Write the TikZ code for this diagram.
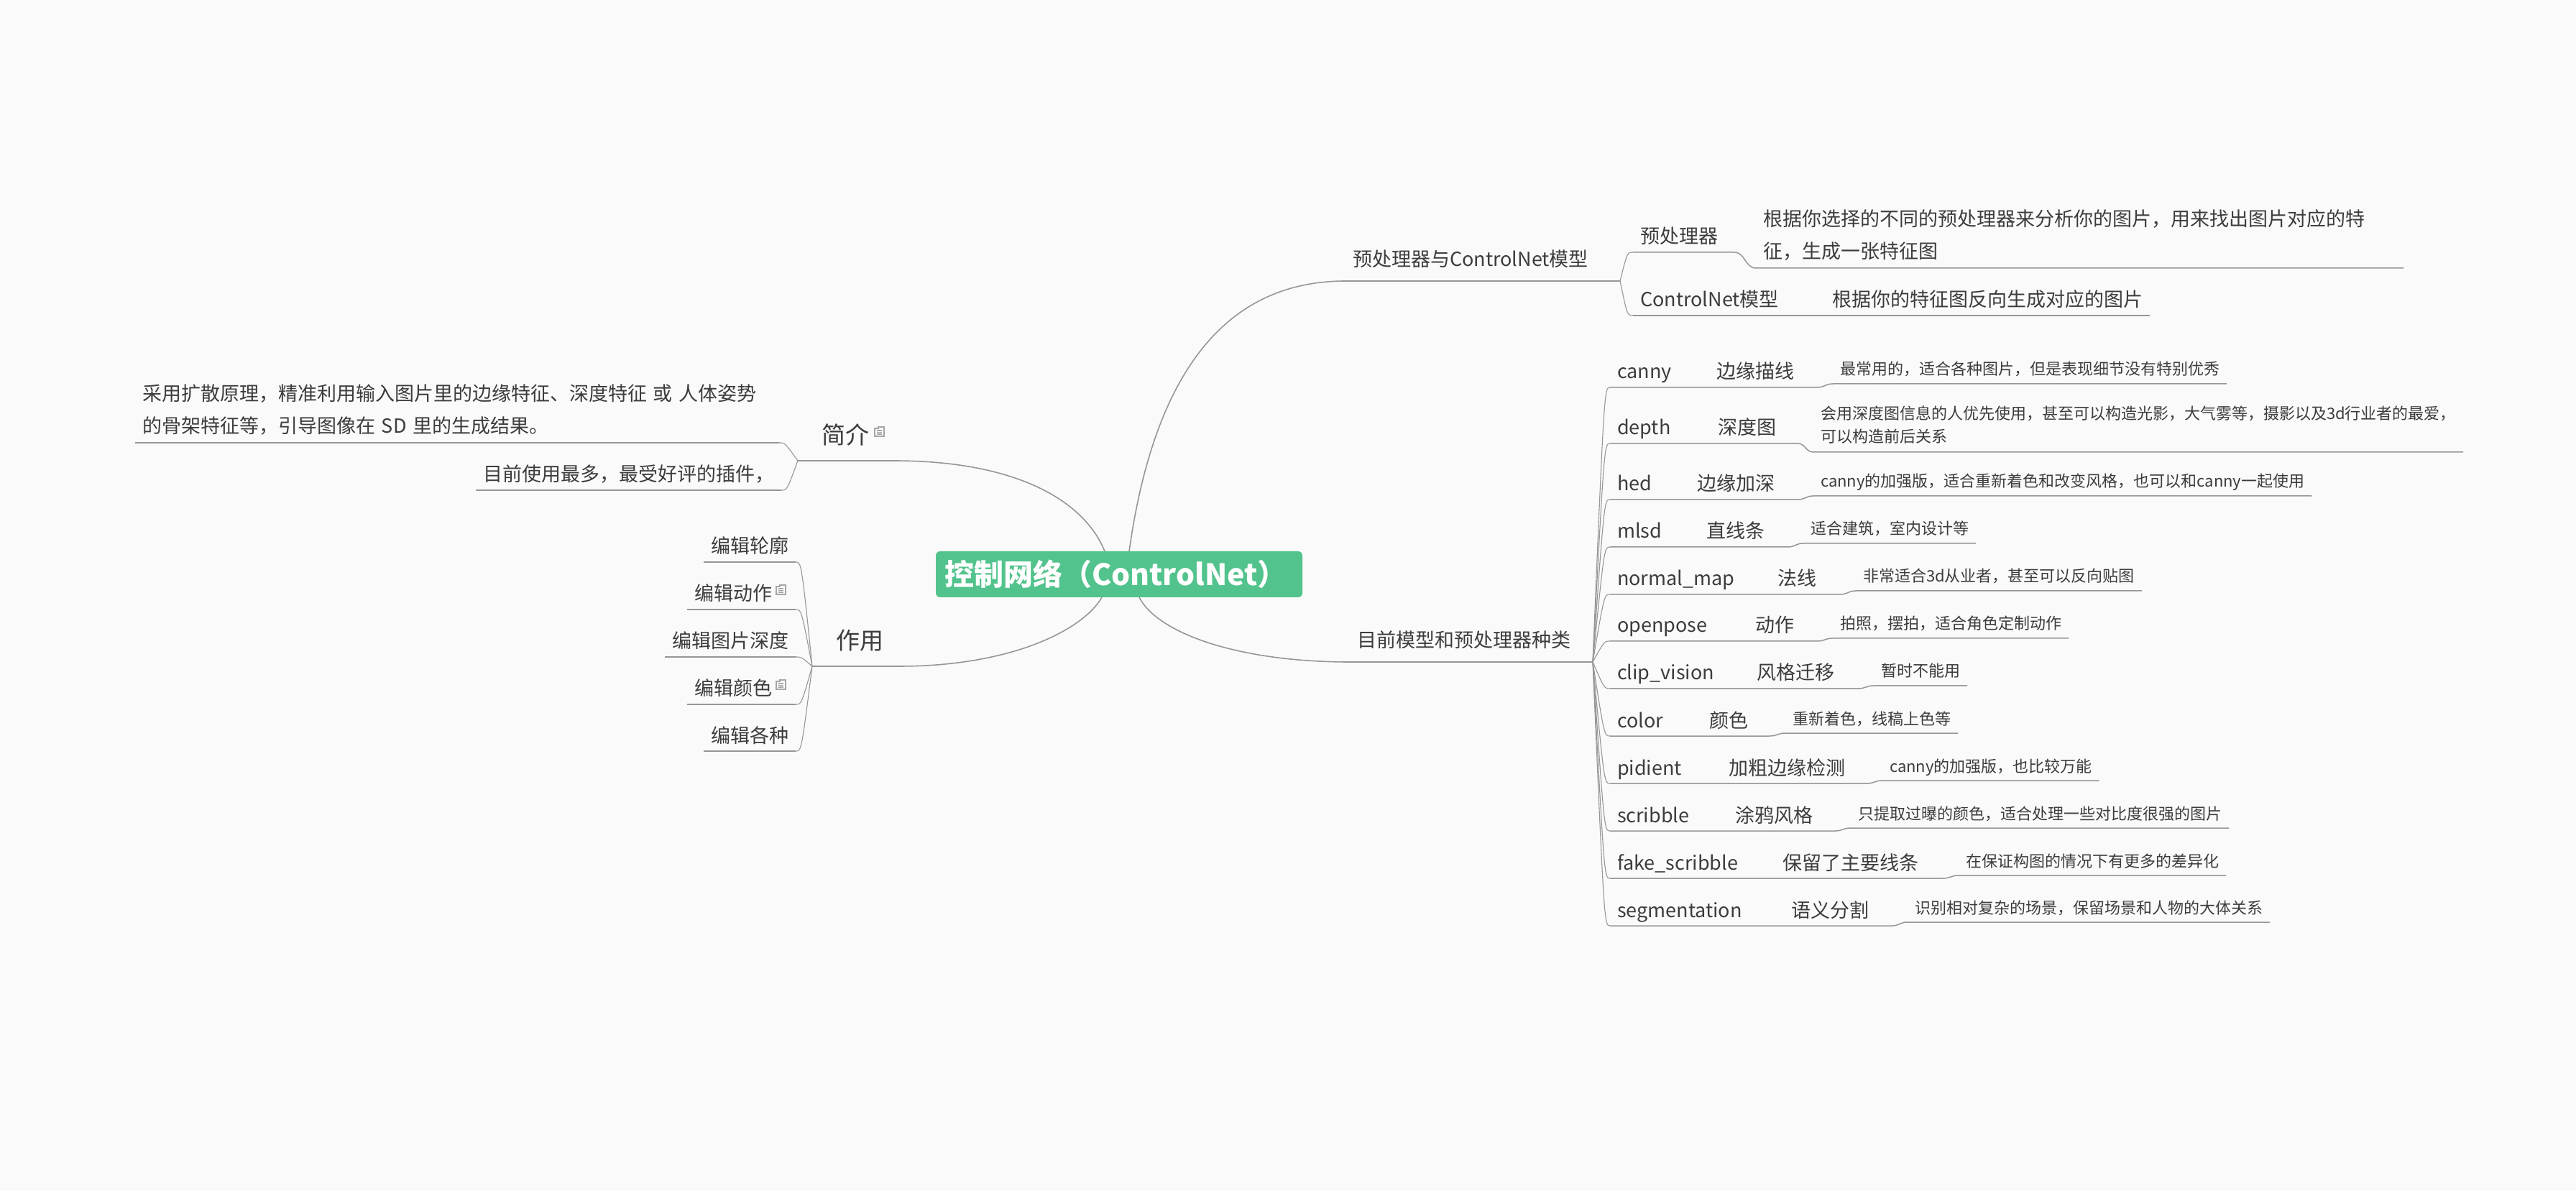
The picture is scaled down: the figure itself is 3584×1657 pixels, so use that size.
\documentclass[tikz,border=0pt]{standalone}
\usepackage{fontspec}
\setmainfont{Noto Sans CJK SC}
\usetikzlibrary{calc}
\setlength\parindent{0pt}
\definecolor{bgc}{RGB}{250,250,250}
\definecolor{txtc}{RGB}{60,60,60}
\definecolor{lnc}{RGB}{150,150,150}
\definecolor{mgreen}{RGB}{82,195,140}
\definecolor{iconc}{RGB}{165,165,165}
\newcommand\fzMain{\fontsize{20.5pt}{24pt}\selectfont\bfseries}
\newcommand\fzBig{\fontsize{16.5pt}{20pt}\selectfont}
\newcommand\fzMid{\fontsize{13.5pt}{22.5pt}\selectfont}
\newcommand\fzSml{\fontsize{11pt}{16pt}\selectfont}
\newcommand\lastdp{\rule[-6.5pt]{0pt}{0pt}}
\newcommand\iconspace[1]{\rule{#1}{0pt}}
\tikzset{
  notemark/.pic={
    \draw[iconc, line width=0.6pt] (0,2) -- (5,2) -- (5,0) -- (13,0) -- (13,13) -- (0,13) -- cycle;
    \draw[iconc, line width=0.6pt] (3,5) -- (10,5) (3,7.5) -- (10,7.5) (3,10) -- (10,10);
  }
}
\begin{document}
\begin{tikzpicture}[x=0.5pt,y=-0.5pt,
  every node/.style={text=txtc, inner ysep=0pt, outer sep=0pt},
  tp/.style={inner xsep=5pt, text depth=6pt, font=\fzMid},
  tps/.style={inner xsep=5pt, text depth=6pt, font=\fzSml},
  tpm/.style={inner xsep=5pt, align=left, font=\fzMid},
  tpms/.style={inner xsep=5pt, align=left, font=\fzSml},
  branch/.style={inner xsep=5pt, text depth=10pt, font=\fzMid},
  lbranch/.style={text depth=11.5pt, font=\fzBig},
  mainnode/.style={fill=mgreen, rounded corners=3pt, text=white, font=\fzMain,
    text width=243pt, align=left, inner xsep=6pt, minimum height=32pt},
  mainline/.style={draw=lnc, line width=0.8pt},
  mainul/.style={draw=lnc, line width=1.2pt},
  subul/.style={draw=lnc, line width=0.75pt},
  fan/.style={draw=lnc, line width=0.55pt}
]
\fill[bgc] (0,0) rectangle (3584,1657);
\useasboundingbox (0,0) rectangle (3584,1657);

% central topic
\node[mainnode] (main) at (1557,799) {控制网络（ControlNet）};

% ---------- branch 1 ----------
\node[branch, anchor=south west] (b1) at (1872,391) {预处理器与ControlNet模型};
\coordinate (s1) at (2254,391);
\node[tp, anchor=south west] (p1) at (2272,351) {预处理器};
\node[tpm, text width=440.5pt, anchor=south west] (p1d) at (2443,373)
  {根据你选择的不同的预处理器来分析你的图片，用来找出图片对应的特\\征，生成一张特征图\lastdp};
\node[tp, anchor=south west] (p2) at (2272,439) {ControlNet模型};
\node[tp, anchor=south west] (p2d) at (2539,439) {根据你的特征图反向生成对应的图片};

\draw[mainline] ([xshift=7pt]main.north) .. controls +(29,-207) and +(-192,0) .. (b1.south west);
\draw[mainul] (b1.south west) -- (b1.south east) -- (s1);
\draw[fan] (s1) .. controls ([xshift=-4pt]p1.south west) and ([xshift=-4pt]p1.south west) .. (p1.south west);
\draw[fan] (s1) .. controls ([xshift=-4pt]p2.south west) and ([xshift=-4pt]p2.south west) .. (p2.south west);
\draw[subul] (p1.south west) -- (p1.south east) -- ($(p1d.south west |- p1.south east)+(-30,0)$)
  .. controls +(15,0) and +(-15,0) .. (p1d.south west) -- (p1d.south east);
\draw[subul] (p2.south west) -- (p2.south east) -- (p2d.south west) -- (p2d.south east);

% ---------- branch 2 ----------
\node[branch, anchor=south west] (b2) at (1878,921) {目前模型和预处理器种类};
\coordinate (s2) at (2216,921);
\draw[mainline] ([xshift=14pt]main.south) .. controls +(25,49) and +(-158,0) .. (b2.south west);
\draw[mainul] (b2.south west) -- (b2.south east) -- (s2);

\node[tp, anchor=south west] (n1) at (2240,539) {canny};
\node[tp, anchor=south west] (m1) at (2378,539) {边缘描线};
\node[tps, anchor=south west] (d1) at (2550,534) {最常用的，适合各种图片，但是表现细节没有特别优秀};

\node[tp, anchor=south west] (n2) at (2240,617) {depth};
\node[tp, anchor=south west] (m2) at (2380,617) {深度图};
\node[tpms, text width=442pt, anchor=south west] (d2) at (2523,629)
  {会用深度图信息的人优先使用，甚至可以构造光影，大气雾等，摄影以及3d行业者的最爱，\\可以构造前后关系\lastdp};

\node[tp, anchor=south west] (n3) at (2240,695) {hed};
\node[tp, anchor=south west] (m3) at (2351,695) {边缘加深};
\node[tps, anchor=south west] (d3) at (2523,690) {canny的加强版，适合重新着色和改变风格，也可以和canny一起使用};

\node[tp, anchor=south west] (n4) at (2240,761) {mlsd};
\node[tp, anchor=south west] (m4) at (2364,761) {直线条};
\node[tps, anchor=south west] (d4) at (2509,756) {适合建筑，室内设计等};

\node[tp, anchor=south west] (n5) at (2240,827) {normal\_map};
\node[tp, anchor=south west] (m5) at (2463,827) {法线};
\node[tps, anchor=south west] (d5) at (2582,822) {非常适合3d从业者，甚至可以反向贴图};

\node[tp, anchor=south west] (n6) at (2240,892) {openpose};
\node[tp, anchor=south west] (m6) at (2432,892) {动作};
\node[tps, anchor=south west] (d6) at (2550,888) {拍照，摆拍，适合角色定制动作};

\node[tp, anchor=south west] (n7) at (2240,958) {clip\_vision};
\node[tp, anchor=south west] (m7) at (2434,958) {风格迁移};
\node[tps, anchor=south west] (d7) at (2607,954) {暂时不能用};

\node[tp, anchor=south west] (n8) at (2240,1024) {color};
\node[tp, anchor=south west] (m8) at (2368,1024) {颜色};
\node[tps, anchor=south west] (d8) at (2484,1020) {重新着色，线稿上色等};

\node[tp, anchor=south west] (n9) at (2240,1090) {pidient};
\node[tp, anchor=south west] (m9) at (2395,1090) {加粗边缘检测};
\node[tps, anchor=south west] (d9) at (2619,1086) {canny的加强版，也比较万能};

\node[tp, anchor=south west] (n10) at (2240,1156) {scribble};
\node[tp, anchor=south west] (m10) at (2404,1156) {涂鸦风格};
\node[tps, anchor=south west] (d10) at (2575,1152) {只提取过曝的颜色，适合处理一些对比度很强的图片};

\node[tp, anchor=south west] (n11) at (2240,1222) {fake\_scribble};
\node[tp, anchor=south west] (m11) at (2470,1222) {保留了主要线条};
\node[tps, anchor=south west] (d11) at (2725,1218) {在保证构图的情况下有更多的差异化};

\node[tp, anchor=south west] (n12) at (2240,1288) {segmentation};
\node[tp, anchor=south west] (m12) at (2482,1288) {语义分割};
\node[tps, anchor=south west] (d12) at (2654,1283) {识别相对复杂的场景，保留场景和人物的大体关系};

\foreach \i in {1,...,12} {
  \draw[fan] (s2) .. controls ([xshift=-4pt]n\i.south west) and ([xshift=-4pt]n\i.south west) .. (n\i.south west);
  \draw[subul] (n\i.south west) -- (n\i.south east) -- (m\i.south west) -- (m\i.south east)
    -- ($(d\i.south west |- m\i.south east)+(-22,0)$)
    .. controls +(11,0) and +(-11,0) .. (d\i.south west) -- (d\i.south east);
}

% ---------- branch 3: 简介 ----------
\node[lbranch, inner xsep=6.5pt, anchor=south east] (jj) at (1243,641) {简介\iconspace{10.5pt}};
\pic at ($(jj.south east)+(-26,-47)$) {notemark};
\coordinate (s3) at (1110,641);
\draw[mainul] (s3) -- (jj.south west) -- (jj.south east);
\draw[mainline] (jj.south east) .. controls +(177,0) and +(-27,-67) .. ([xshift=-10pt]main.north);

\node[tpm, text width=438pt, anchor=south west] (jd) at (188,616)
  {采用扩散原理，精准利用输入图片里的边缘特征、深度特征 或 人体姿势\\的骨架特征等，引导图像在 SD 里的生成结果。\lastdp};
\node[tp, anchor=south east] (jm) at (1087,682) {目前使用最多，最受好评的插件，};
\draw[subul] (jd.south west) -- (jd.south east);
\draw[subul] (jm.south west) -- (jm.south east);
\draw[fan] (jd.south east) .. controls ([xshift=4pt]jd.south east) and ([xshift=4pt]jd.south east) .. (s3);
\draw[fan] (jm.south east) .. controls ([xshift=4pt]jm.south east) and ([xshift=4pt]jm.south east) .. (s3);

% ---------- branch 4: 作用 ----------
\node[lbranch, inner xsep=10.5pt, anchor=south east] (zy) at (1250,927) {作用};
\coordinate (s4) at (1130,927);
\draw[mainul] (s4) -- (zy.south west) -- (zy.south east);
\draw[mainline] (zy.south east) .. controls +(160,0) and +(-25,44) .. ([xshift=-12pt]main.south);

\node[tp, anchor=south east] (z1) at (1107,782) {编辑轮廓};
\node[tp, anchor=south east] (z2) at (1107,848) {编辑动作\iconspace{11.5pt}};
\node[tp, anchor=south east] (z3) at (1107,914) {编辑图片深度};
\node[tp, anchor=south east] (z4) at (1107,980) {编辑颜色\iconspace{11.5pt}};
\node[tp, anchor=south east] (z5) at (1107,1045) {编辑各种};
\pic at ($(z2.south east)+(-27,-34)$) {notemark};
\pic at ($(z4.south east)+(-27,-34)$) {notemark};

\foreach \i in {1,...,5} {
  \draw[subul] (z\i.south west) -- (z\i.south east);
  \draw[fan] (z\i.south east) .. controls ([xshift=4pt]z\i.south east) and ([xshift=4pt]z\i.south east) .. (s4);
}
\end{tikzpicture}
\end{document}
